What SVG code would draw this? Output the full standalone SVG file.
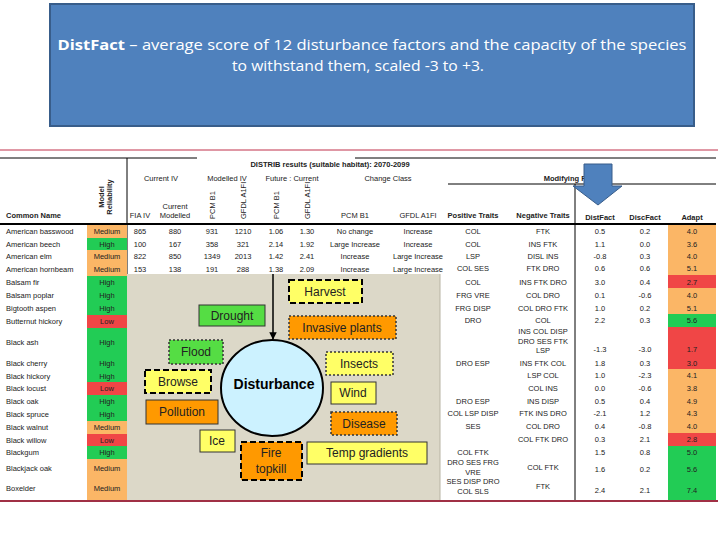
<svg xmlns="http://www.w3.org/2000/svg" width="720" height="540" viewBox="0 0 720 540">
<defs>
<style>
.t{font-family:"Liberation Sans",Arial,sans-serif;font-size:7.5px;fill:#222}
.c{text-anchor:middle}
.h{font-family:"Liberation Sans",Arial,sans-serif;font-size:7.5px;fill:#222;text-anchor:middle}
.b{font-weight:bold}
.ttl{font-family:"Open Sans","Liberation Sans",sans-serif;font-size:14.5px;fill:#fff}
.M{fill:#fbb666}.H{fill:#22cc55}.L{fill:#f04646}
.box{font-family:"Liberation Sans",Arial,sans-serif;font-size:12px;fill:#222;text-anchor:middle}
.ln{stroke:#000;fill:none}
</style>
<marker id="ah" viewBox="0 0 10 10" refX="9" refY="5" markerWidth="5" markerHeight="5" orient="auto"><path d="M0,0 L10,5 L0,10 z" fill="#000"/></marker>
</defs>
<rect width="720" height="540" fill="#fff"/>
<g id="title">
<rect x="50" y="4" width="644" height="122" fill="#4f81bd" stroke="#385d8a" stroke-width="2"/>
<text class="ttl" x="372" y="50" text-anchor="middle" textLength="629" lengthAdjust="spacingAndGlyphs"><tspan font-weight="bold">DistFact</tspan> – average score of 12 disturbance factors and the capacity of the species</text>
<text class="ttl" x="358" y="71" text-anchor="middle" textLength="252" lengthAdjust="spacingAndGlyphs">to withstand them, scaled -3 to +3.</text>
</g>
<g id="table">
<line x1="0" y1="150" x2="718" y2="150" stroke="#c0304a" stroke-width="1"/>
<line x1="0" y1="501" x2="718" y2="501" stroke="#a03045" stroke-width="2"/>
<g class="ln" stroke-width="1">
<line x1="0" y1="158" x2="197" y2="158"/>
<line x1="355" y1="158" x2="716" y2="158"/>
<line x1="448" y1="184" x2="716" y2="184"/>
<line x1="127" y1="158" x2="127" y2="274"/>
<line x1="575" y1="184" x2="575" y2="500"/>
<line x1="0" y1="224" x2="716" y2="224" stroke-width="2"/>
</g>
<text class="h b" x="330" y="167">DISTRIB results (suitable habitat): 2070-2099</text>
<text class="h" x="161" y="181">Current IV</text>
<text class="h" x="227" y="181">Modelled IV</text>
<text class="h" x="292" y="181">Future : Current</text>
<text class="h" x="388" y="181">Change Class</text>
<text class="h b" x="576" y="181">Modifying Factors</text>
<text class="t b" x="6" y="218">Common Name</text>
<text class="h b" transform="translate(104,197) rotate(-90)">Model</text>
<text class="h b" transform="translate(112,197) rotate(-90)">Reliability</text>
<text class="h" x="140" y="218">FIA IV</text>
<text class="h" x="175" y="209">Current</text>
<text class="h" x="175" y="218">Modelled</text>
<text class="t" transform="translate(215,219) rotate(-90)">PCM B1</text>
<text class="t" transform="translate(246,219) rotate(-90)">GFDL A1FI</text>
<text class="t" transform="translate(279,219) rotate(-90)">PCM B1</text>
<text class="t" transform="translate(310,219) rotate(-90)">GFDL A1FI</text>
<text class="h" x="355" y="218">PCM B1</text>
<text class="h" x="418" y="218">GFDL A1FI</text>
<text class="h b" x="473" y="218">Positive Traits</text>
<text class="h b" x="543" y="218">Negative Traits</text>
<text class="h b" x="600" y="220">DistFact</text>
<text class="h b" x="645" y="220">DiscFact</text>
<text class="h b" x="692" y="220">Adapt</text>
<!-- reliability cells -->
<rect class="M" x="87" y="225" width="40" height="13"/>
<rect class="H" x="87" y="238" width="40" height="12"/>
<rect class="M" x="87" y="250" width="40" height="13"/>
<rect class="M" x="87" y="263" width="40" height="13"/>
<rect class="H" x="87" y="276" width="40" height="39"/>
<rect class="L" x="87" y="315" width="40" height="13"/>
<rect class="H" x="87" y="328" width="40" height="54"/>
<rect class="L" x="87" y="382" width="40" height="13"/>
<rect class="H" x="87" y="395" width="40" height="26"/>
<rect class="M" x="87" y="421" width="40" height="13"/>
<rect class="L" x="87" y="434" width="40" height="12"/>
<rect class="H" x="87" y="446" width="40" height="13"/>
<rect class="M" x="87" y="459" width="40" height="41"/>
<g class="t">
<text x="6" y="234">American basswood</text><text x="6" y="247">American beech</text><text x="6" y="259">American elm</text><text x="6" y="272">American hornbeam</text>
<text x="6" y="285">Balsam fir</text><text x="6" y="298">Balsam poplar</text><text x="6" y="311">Bigtooth aspen</text><text x="6" y="324">Butternut hickory</text>
<text x="6" y="345">Black ash</text><text x="6" y="366">Black cherry</text><text x="6" y="379">Black hickory</text><text x="6" y="391">Black locust</text>
<text x="6" y="404">Black oak</text><text x="6" y="417">Black spruce</text><text x="6" y="430">Black walnut</text><text x="6" y="443">Black willow</text>
<text x="6" y="455">Blackgum</text><text x="6" y="471">Blackjack oak</text><text x="6" y="491">Boxelder</text>
</g>
<g class="h">
<text x="107" y="234">Medium</text><text x="107" y="247">High</text><text x="107" y="259">Medium</text><text x="107" y="272">Medium</text>
<text x="107" y="285">High</text><text x="107" y="298">High</text><text x="107" y="311">High</text><text x="107" y="324">Low</text>
<text x="107" y="345">High</text><text x="107" y="366">High</text><text x="107" y="379">High</text><text x="107" y="391">Low</text>
<text x="107" y="404">High</text><text x="107" y="417">High</text><text x="107" y="430">Medium</text><text x="107" y="443">Low</text>
<text x="107" y="455">High</text><text x="107" y="471">Medium</text><text x="107" y="491">Medium</text>
</g>
<g class="h">
<text x="140" y="234">865</text><text x="175" y="234">880</text><text x="212" y="234">931</text><text x="243" y="234">1210</text><text x="276" y="234">1.06</text><text x="307" y="234">1.30</text><text x="355" y="234">No change</text><text x="418" y="234">Increase</text>
<text x="140" y="247">100</text><text x="175" y="247">167</text><text x="212" y="247">358</text><text x="243" y="247">321</text><text x="276" y="247">2.14</text><text x="307" y="247">1.92</text><text x="355" y="247">Large Increase</text><text x="418" y="247">Increase</text>
<text x="140" y="259">822</text><text x="175" y="259">850</text><text x="212" y="259">1349</text><text x="243" y="259">2013</text><text x="276" y="259">1.42</text><text x="307" y="259">2.41</text><text x="355" y="259">Increase</text><text x="418" y="259">Large Increase</text>
<text x="140" y="272">153</text><text x="175" y="272">138</text><text x="212" y="272">191</text><text x="243" y="272">288</text><text x="276" y="272">1.38</text><text x="307" y="272">2.09</text><text x="355" y="272">Increase</text><text x="418" y="272">Large Increase</text>
</g>
<!-- adapt cells -->
<rect class="M" x="668" y="225" width="48" height="100"/>
<rect class="L" x="668" y="275" width="48" height="13"/>
<rect class="H" x="668" y="314" width="48" height="13"/>
<rect class="L" x="668" y="327" width="48" height="42"/>
<rect class="M" x="668" y="369" width="48" height="77"/>
<rect class="L" x="668" y="433" width="48" height="13"/>
<rect class="H" x="668" y="446" width="48" height="54"/>
<g class="h">
<text x="473" y="234">COL</text><text x="543" y="234">FTK</text><text x="600" y="234">0.5</text><text x="645" y="234">0.2</text><text x="692" y="234">4.0</text>
<text x="473" y="247">COL</text><text x="543" y="247">INS FTK</text><text x="600" y="247">1.1</text><text x="645" y="247">0.0</text><text x="692" y="247">3.6</text>
<text x="473" y="259">LSP</text><text x="543" y="259">DISL INS</text><text x="600" y="259">-0.8</text><text x="645" y="259">0.3</text><text x="692" y="259">4.0</text>
<text x="473" y="271">COL SES</text><text x="543" y="271">FTK DRO</text><text x="600" y="271">0.6</text><text x="645" y="271">0.6</text><text x="692" y="271">5.1</text>
<text x="473" y="285">COL</text><text x="543" y="285">INS FTK DRO</text><text x="600" y="285">3.0</text><text x="645" y="285">0.4</text><text x="692" y="285">2.7</text>
<text x="473" y="298">FRG VRE</text><text x="543" y="298">COL DRO</text><text x="600" y="298">0.1</text><text x="645" y="298">-0.6</text><text x="692" y="298">4.0</text>
<text x="473" y="311">FRG DISP</text><text x="543" y="311">COL DRO FTK</text><text x="600" y="311">1.0</text><text x="645" y="311">0.2</text><text x="692" y="311">5.1</text>
<text x="473" y="323">DRO</text><text x="543" y="323">COL</text><text x="600" y="323">2.2</text><text x="645" y="323">0.3</text><text x="692" y="323">5.6</text>
<text x="543" y="334">INS COL DISP</text><text x="543" y="344">DRO SES FTK</text><text x="543" y="353">LSP</text><text x="600" y="352">-1.3</text><text x="645" y="352">-3.0</text><text x="692" y="352">1.7</text>
<text x="473" y="366">DRO ESP</text><text x="543" y="366">INS FTK COL</text><text x="600" y="366">1.8</text><text x="645" y="366">0.3</text><text x="692" y="366">3.0</text>
<text x="543" y="378">LSP COL</text><text x="600" y="378">1.0</text><text x="645" y="378">-2.3</text><text x="692" y="378">4.1</text>
<text x="543" y="391">COL INS</text><text x="600" y="391">0.0</text><text x="645" y="391">-0.6</text><text x="692" y="391">3.8</text>
<text x="473" y="404">DRO ESP</text><text x="543" y="404">INS DISP</text><text x="600" y="404">0.5</text><text x="645" y="404">0.4</text><text x="692" y="404">4.9</text>
<text x="473" y="416">COL LSP DISP</text><text x="543" y="416">FTK INS DRO</text><text x="600" y="416">-2.1</text><text x="645" y="416">1.2</text><text x="692" y="416">4.3</text>
<text x="473" y="429">SES</text><text x="543" y="429">COL DRO</text><text x="600" y="429">0.4</text><text x="645" y="429">-0.8</text><text x="692" y="429">4.0</text>
<text x="543" y="442">COL FTK DRO</text><text x="600" y="442">0.3</text><text x="645" y="442">2.1</text><text x="692" y="442">2.8</text>
<text x="473" y="455">COL FTK</text><text x="600" y="455">1.5</text><text x="645" y="455">0.8</text><text x="692" y="455">5.0</text>
<text x="473" y="465">DRO SES FRG</text><text x="473" y="475">VRE</text><text x="543" y="470">COL FTK</text><text x="600" y="472">1.6</text><text x="645" y="472">0.2</text><text x="692" y="472">5.6</text>
<text x="473" y="484">SES DISP DRO</text><text x="473" y="494">COL SLS</text><text x="543" y="489">FTK</text><text x="600" y="493">2.4</text><text x="645" y="493">2.1</text><text x="692" y="493">7.4</text>
</g>
</g>
<g id="overlay">
<rect x="127" y="274" width="313" height="226" fill="#dcd8c8"/>
<line x1="440" y1="274" x2="440" y2="500" stroke="#b8b4a4"/>
</g>
<g id="connectors">
<line x1="273" y1="274" x2="273" y2="339" stroke="#000" stroke-width="1.5" marker-end="url(#ah)"/>
</g>
<g id="disturbance">
<ellipse cx="272" cy="388" rx="51" ry="48" fill="#ccf2ff" stroke="#000" stroke-width="2"/>
<text x="274" y="389" font-family="Liberation Sans,Arial,sans-serif" font-size="14" font-weight="bold" text-anchor="middle">Disturbance</text>
</g>
<g id="harvest"><rect x="289" y="280" width="73" height="23" fill="#ffff66" stroke="#000" stroke-width="2" stroke-dasharray="6,3"/><text class="box" x="325" y="296">Harvest</text></g>
<g id="drought"><rect x="199" y="305" width="66" height="21" fill="#55dd44" stroke="#333" stroke-width="1"/><text class="box" x="232" y="320">Drought</text></g>
<g id="invasive"><rect x="289" y="316" width="107" height="23" fill="#ff9900" stroke="#333" stroke-width="1.5" stroke-dasharray="2,2"/><text class="box" x="342" y="332">Invasive plants</text></g>
<g id="flood"><rect x="169" y="340" width="54" height="24" fill="#55dd44" stroke="#333" stroke-width="1.5" stroke-dasharray="2,2"/><text class="box" x="196" y="356">Flood</text></g>
<g id="insects"><rect x="326" y="352" width="67" height="23" fill="#ffff66" stroke="#333" stroke-width="1.5" stroke-dasharray="2,2"/><text class="box" x="359" y="368">Insects</text></g>
<g id="browse"><rect x="145" y="370" width="66" height="23" fill="#ffff66" stroke="#000" stroke-width="2" stroke-dasharray="6,3"/><text class="box" x="178" y="386">Browse</text></g>
<g id="wind"><rect x="331" y="382" width="45" height="22" fill="#ffff66" stroke="#333" stroke-width="1"/><text class="box" x="353" y="397">Wind</text></g>
<g id="pollution"><rect x="146" y="400" width="72" height="24" fill="#ff9900" stroke="#333" stroke-width="1"/><text class="box" x="182" y="416">Pollution</text></g>
<g id="disease"><rect x="331" y="412" width="66" height="23" fill="#ff9900" stroke="#333" stroke-width="1.5" stroke-dasharray="2,2"/><text class="box" x="364" y="428">Disease</text></g>
<g id="ice"><rect x="200" y="430" width="35" height="22" fill="#ffff66" stroke="#333" stroke-width="1"/><text class="box" x="217" y="445">Ice</text></g>
<g id="fire"><rect x="241" y="442" width="61" height="38" fill="#ff9900" stroke="#000" stroke-width="2" stroke-dasharray="6,3"/><text class="box" x="271" y="457">Fire</text><text class="box" x="271" y="473">topkill</text></g>
<g id="temp"><rect x="307" y="442" width="120" height="22" fill="#ffff66" stroke="#333" stroke-width="1"/><text class="box" x="367" y="457">Temp gradients</text></g>
<g id="bluearrow">
<path d="M584,164 L612,164 L612,186 L622,186 L598,205 L573,186 L584,186 z" fill="#4f81bd" stroke="#385d8a" stroke-width="1"/>
</g>
</svg>
